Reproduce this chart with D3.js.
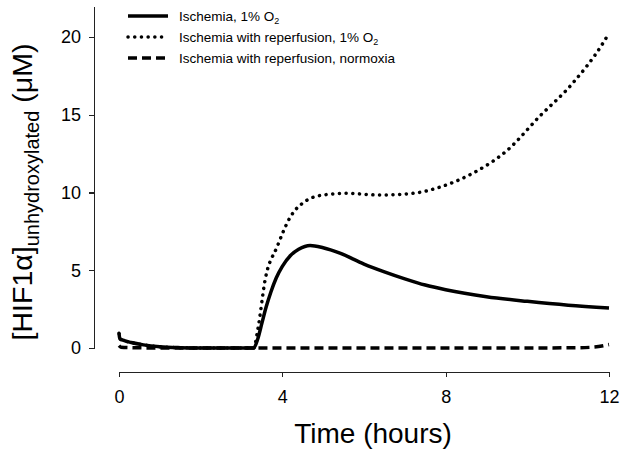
<!DOCTYPE html>
<html>
<head>
<meta charset="utf-8">
<script src="https://cdn.jsdelivr.net/npm/d3@7"></script>
<style>
  body { margin: 0; background: #fff; }
  svg text { font-family: "Liberation Sans", Arial, sans-serif; fill: #000; }
  .axis path, .axis line { stroke: #222; stroke-width: 1.2; shape-rendering: crispEdges; }
</style>
</head>
<body>
<div id="chart"></div>
<script>
// series (time in hours, concentration in uM)
var ischemiaT = [0, 0.02, 0.1, 0.3, 0.6, 1.0, 1.5, 2.0, 3.3, 3.4, 3.5, 3.6, 3.72, 3.85, 4.0, 4.2, 4.4, 4.68, 5.0, 5.41, 6.0, 6.5, 7.0, 7.5, 8.0, 9.0, 10.0, 11.0, 12.0];
var ischemiaV = [0.95, 0.6, 0.5, 0.35, 0.2, 0.08, 0.02, 0, 0, 0.6, 1.6, 2.6, 3.6, 4.5, 5.25, 5.95, 6.35, 6.6, 6.45, 6.1, 5.4, 4.9, 4.45, 4.05, 3.75, 3.3, 3.0, 2.75, 2.57];

var reperfT = [0, 0.02, 0.1, 0.3, 0.6, 1.0, 1.5, 2.0, 3.3, 3.4, 3.58, 3.87, 4.19, 4.6, 5.0, 5.58, 6.39, 7.2, 7.86, 8.67, 9.5, 10.3, 11.1, 11.85, 12.0];
var reperfV = [0.95, 0.6, 0.5, 0.35, 0.2, 0.08, 0.02, 0, 0, 1.2, 4.4, 6.5, 8.4, 9.5, 9.84, 9.95, 9.84, 9.95, 10.35, 11.25, 12.7, 14.9, 17.0, 19.6, 20.25];

var normoxiaT = [0, 0.05, 0.3, 1.0, 3.0, 6.0, 9.0, 11.0, 11.6, 12.0];
var normoxiaV = [0.15, 0.05, 0.02, 0, 0, 0, 0, 0.01, 0.05, 0.22];

var xTicks = [0, 4, 8, 12];
var yTicks = [0, 5, 10, 15, 20];
var legendLabels = ["Ischemia, 1% O", "Ischemia with reperfusion, 1% O", "Ischemia with reperfusion, normoxia"];
var legendSubs = ["2", "2", ""];

var W = 624, H = 453;
var svg = d3.select("#chart").append("svg").attr("width", W).attr("height", H);

var xScale = d3.scaleLinear().domain([0, 12]).range([119, 609]);
var yScale = d3.scaleLinear().domain([0, 22]).range([348, 6]);

// axes
svg.append("g").attr("class", "axis")
  .attr("transform", "translate(0," + 372 + ")")
  .call(d3.axisBottom(xScale).tickValues(xTicks).tickSize(5).tickPadding(13).tickSizeOuter(0))
  .selectAll("text").attr("font-size", 18);
svg.append("g").attr("class", "axis")
  .attr("transform", "translate(" + 94 + ",0)")
  .call(d3.axisLeft(yScale).tickValues(yTicks).tickSize(5).tickPadding(8).tickSizeOuter(0))
  .selectAll("text").attr("font-size", 18);
svg.selectAll(".axis text").attr("font-family", "Liberation Sans, Arial, sans-serif").attr("fill", "#000");

// axis titles
svg.append("text")
  .attr("x", 373).attr("y", 443)
  .attr("text-anchor", "middle").attr("font-size", 28)
  .text("Time (hours)");

var ylab = svg.append("text")
  .attr("transform", "translate(32,192) rotate(-90)")
  .attr("text-anchor", "middle").attr("font-size", 28.5);
ylab.append("tspan").text("[HIF1α]");
ylab.append("tspan").attr("font-size", 20).attr("dy", 7).text("unhydroxylated");
ylab.append("tspan").attr("dy", -7).text(" (μM)");

// lines
var line = d3.line()
  .x(function(d){ return xScale(d[0]); })
  .y(function(d){ return yScale(d[1]); })
  .curve(d3.curveMonotoneX);

var styles = [
  { dash: null, cap: "butt" },
  { dash: "0.1 6.6", cap: "round" },
  { dash: "9 5", cap: "butt" }
];
var series = [
  d3.zip(ischemiaT, ischemiaV),
  d3.zip(reperfT, reperfV),
  d3.zip(normoxiaT, normoxiaV)
];

series.forEach(function(s, i){
  svg.append("path")
    .attr("d", line(s))
    .attr("fill", "none")
    .attr("stroke", "#000")
    .attr("stroke-width", 3.5)
    .attr("stroke-linecap", styles[i].cap)
    .attr("stroke-linejoin", "round")
    .attr("stroke-dasharray", styles[i].dash);
});

// legend
var legendY = [16, 37, 58];
legendLabels.forEach(function(lab, i){
  svg.append("line")
    .attr("x1", 128).attr("x2", 168)
    .attr("y1", legendY[i]).attr("y2", legendY[i])
    .attr("stroke", "#000").attr("stroke-width", 3.5)
    .attr("stroke-linecap", styles[i].cap)
    .attr("stroke-dasharray", styles[i].dash);
  var t = svg.append("text")
    .attr("x", 179).attr("y", legendY[i] + 5)
    .attr("font-size", 13.5);
  t.append("tspan").text(lab);
  if (legendSubs[i]) t.append("tspan").attr("font-size", 9).attr("dy", 3).text(legendSubs[i]);
});
</script>
</body>
</html>
